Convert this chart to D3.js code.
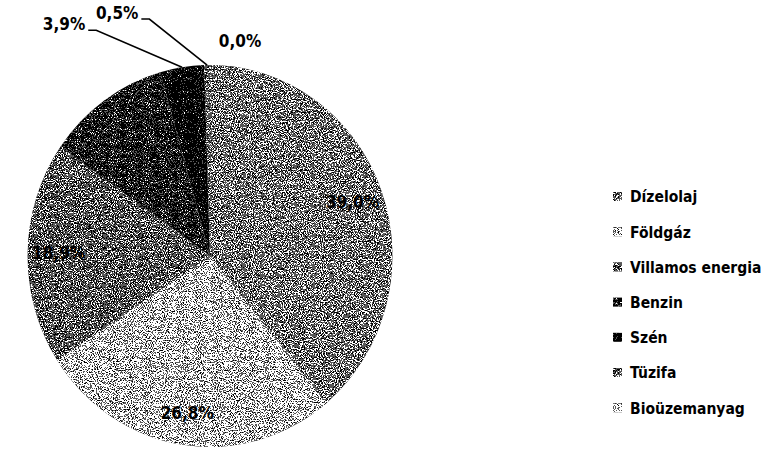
<!DOCTYPE html>
<html>
<head>
<meta charset="utf-8">
<script src="https://cdn.jsdelivr.net/npm/d3@7"></script>
<style>
  body { margin: 0; background: #fff; }
  svg { display: block; }
  text { font-family: "DejaVu Sans Condensed", "DejaVu Sans", sans-serif; font-weight: bold; }
</style>
</head>
<body>
<div id="chart"></div>
<script>
// energy sources and their share (%)
var categories = ["Dízelolaj", "Földgáz", "Villamos energia", "Benzin", "Szén", "Tüzifa", "Bioüzemanyag"];
var shares = [39.0, 26.8, 18.9, 10.9, 3.9, 0.5, 0.0];
var shareLabels = ["39,0%", "26,8%", "18,9%", "", "3,9%", "0,5%", "0,0%"];

// gray tone of every slice (0 black .. 1 white), dithered by the filter below
var tones = [0.54, 0.74, 0.45, 0.2, 0.02, 0.5, 0.8];

var width = 762, height = 457;
var cx = 210, cy = 256, R = 191;
var squeeze = 0.955; // the scanned pie is a little narrower than tall

var svg = d3.select("#chart").append("svg")
    .attr("width", width)
    .attr("height", height);

// grain filter: gray + noise, then thresholded -> scanned/dithered look
var defs = svg.append("defs");
var f = defs.append("filter").attr("id", "grain")
    .attr("x", 0).attr("y", 0).attr("width", 1).attr("height", 1)
    .attr("color-interpolation-filters", "sRGB");
f.append("feTurbulence").attr("type", "fractalNoise")
    .attr("baseFrequency", 0.9).attr("numOctaves", 2).attr("seed", 7).attr("result", "noise");
f.append("feColorMatrix").attr("in", "noise").attr("type", "matrix")
    .attr("values", "1 0 0 0 0  1 0 0 0 0  1 0 0 0 0  0 0 0 0 1").attr("result", "mono");
f.append("feComposite").attr("in", "SourceGraphic").attr("in2", "mono")
    .attr("operator", "arithmetic")
    .attr("k1", 0).attr("k2", 1).attr("k3", 2.6).attr("k4", -1.3).attr("result", "mix");
var ct = f.append("feComponentTransfer").attr("in", "mix").attr("result", "bw");
["feFuncR", "feFuncG", "feFuncB"].forEach(function(n) {
  ct.append(n).attr("type", "discrete").attr("tableValues", "0 0.35 1");
});
f.append("feComposite").attr("in", "bw").attr("in2", "SourceAlpha").attr("operator", "in");

function gray(t) { return d3.rgb(t * 255, t * 255, t * 255).toString(); }

var pie = d3.pie().value(function(d) { return d; }).sort(null);
var arcs = pie(shares);

var arc = d3.arc().innerRadius(0).outerRadius(R);
var labelArc = d3.arc().innerRadius(R * 0.83).outerRadius(R * 0.83);
var edgeArc = d3.arc().innerRadius(R).outerRadius(R);

function sq(p) { return [p[0] * squeeze, p[1]]; }

var g = svg.append("g").attr("transform", "translate(" + cx + "," + cy + ")");

g.append("g")
  .attr("transform", "scale(" + squeeze + ",1)")
  .attr("filter", "url(#grain)")
  .selectAll("path")
  .data(arcs)
  .enter().append("path")
    .attr("d", arc)
    .attr("fill", function(d, i) { return gray(tones[i]); });

// inside labels for the big slices
g.selectAll("text.in")
  .data(arcs.filter(function(d) { return d.data >= 10 && shareLabels[d.index]; }))
  .enter().append("text")
    .attr("class", "in")
    .attr("transform", function(d) {
      var c = sq(labelArc.centroid(d));
      return "translate(" + c[0] + "," + c[1] + ")";
    })
    .attr("text-anchor", "middle")
    .attr("dy", "0.35em")
    .style("font-size", "17px")
    .attr("fill", "#000")
    .text(function(d) { return shareLabels[d.index]; });

// outside labels for small slices (offsets from the slice edge point)
var outside = { 4: { dx: -118, dy: -43, line: true }, 5: { dx: -90, dy: -52, line: true }, 6: { dx: 30, dy: -24, line: false } };

arcs.forEach(function(d) {
  var o = outside[d.index];
  if (!o) return;
  var p = sq(edgeArc.centroid(d));
  var tx = p[0] + o.dx, ty = p[1] + o.dy;
  var t = g.append("text")
    .attr("x", tx).attr("y", ty)
    .attr("text-anchor", "middle")
    .attr("dy", "0.35em")
    .style("font-size", "17px")
    .text(shareLabels[d.index]);
  if (o.line) {
    var w = t.node().getComputedTextLength();
    var sx = tx + w / 2 + 3;
    g.append("polyline")
      .attr("points", [[sx, ty + 6], [sx + 8, ty + 6], p].map(function(q) { return q.join(","); }).join(" "))
      .attr("fill", "none")
      .attr("stroke", "#000")
      .attr("stroke-width", 1.6);
  }
});

// legend
var legend = svg.append("g").attr("transform", "translate(613,197)");
var rowH = 35.2;
var item = legend.selectAll("g")
  .data(categories)
  .enter().append("g")
    .attr("transform", function(d, i) { return "translate(0," + i * rowH + ")"; });
item.append("rect")
    .attr("x", 0).attr("y", -5)
    .attr("width", 9).attr("height", 9)
    .attr("fill", function(d, i) { return gray(tones[i]); })
    .attr("filter", "url(#grain)");
item.append("text")
    .attr("x", 17)
    .attr("dy", "0.35em")
    .style("font-size", "15.5px")
    .text(function(d) { return d; });
</script>
</body>
</html>
